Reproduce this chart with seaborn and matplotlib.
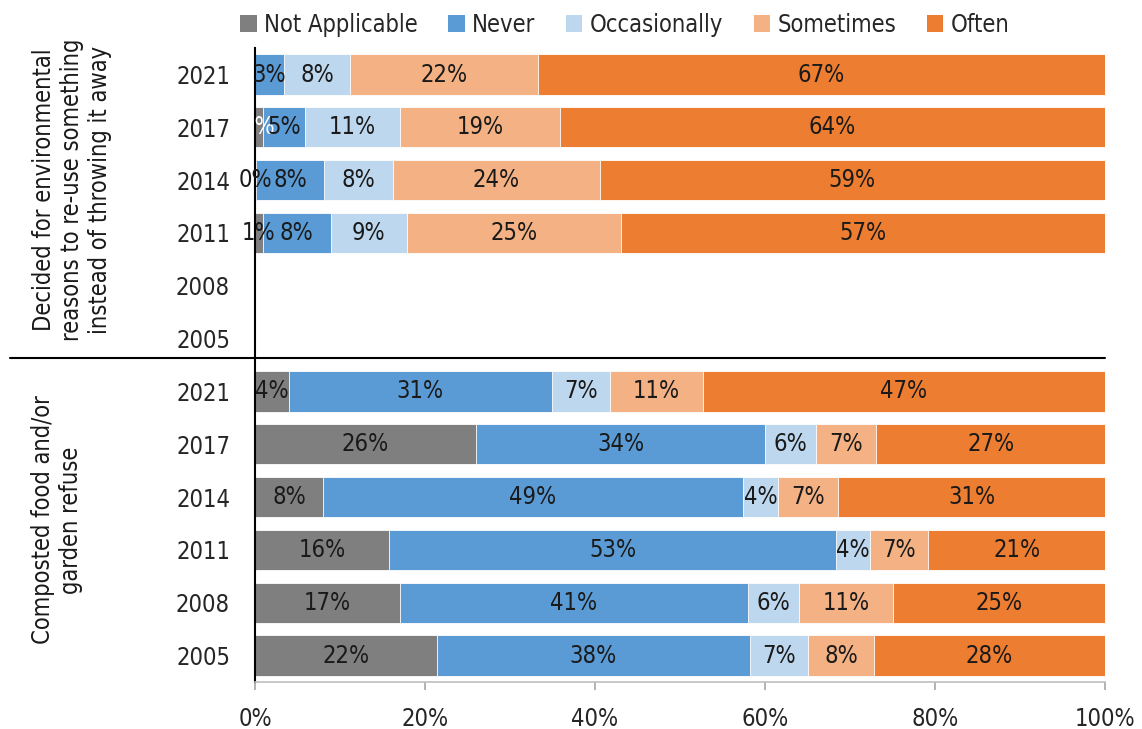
import numpy as np
import pandas as pd
import matplotlib
matplotlib.use("Agg")
import matplotlib.pyplot as plt
import seaborn as sns
from matplotlib.patches import Patch

# chart data (percent shares)
years = ["2021", "2017", "2014", "2011", "2008", "2005"]
series = ["Not Applicable", "Never", "Occasionally", "Sometimes", "Often"]
colors = ["#7F7F7F", "#5B9BD5", "#BDD7EE", "#F4B183", "#ED7D31"]

group_labels = ["Decided for environmental\nreasons to re-use something\ninstead of throwing it away",
                "Composted food and/or\ngarden refuse"]

reuse_na = [0.0, 0.9, 0.1, 0.9, np.nan, np.nan]
reuse_never = [3.4, 5.0, 8.0, 8.0, np.nan, np.nan]
reuse_occ = [7.8, 11.1, 8.1, 9.0, np.nan, np.nan]
reuse_some = [22.1, 18.9, 24.3, 25.1, np.nan, np.nan]
reuse_often = [66.7, 64.1, 59.4, 57.0, np.nan, np.nan]

compost_na = [4.0, 26.0, 8.0, 15.8, 17.0, 22.0]
compost_never = [30.9, 34.0, 49.4, 52.6, 41.0, 38.0]
compost_occ = [6.9, 6.0, 4.1, 4.0, 6.0, 7.0]
compost_some = [10.9, 7.1, 7.1, 6.9, 11.0, 8.0]
compost_often = [47.3, 26.9, 31.4, 20.8, 25.0, 28.0]

sns.set_style("white")
plt.rcParams['font.family'] = ['DejaVu Sans']
plt.rcParams['font.stretch'] = 'condensed'

# build a long table: one row per (bar, series), normalised to 100%
rows = ["a" + y for y in years] + ["b" + y for y in years]
groups = {
    "a": [reuse_na, reuse_never, reuse_occ, reuse_some, reuse_often],
    "b": [compost_na, compost_never, compost_occ, compost_some, compost_often],
}
records = []
for g, vals in groups.items():
    for i, y in enumerate(years):
        v = np.array([s[i] for s in vals], dtype=float)
        if np.isnan(v).all():
            continue
        share = v / v.sum() * 100
        start = np.concatenate([[0], np.cumsum(share)[:-1]])
        for k, name in enumerate(series):
            records.append({"row": g + y, "series": name, "value": v[k],
                            "share": share[k], "start": start[k],
                            "end": start[k] + share[k]})
df = pd.DataFrame(records)

fig = plt.figure(figsize=(11.42, 7.29), dpi=100)
ax = fig.add_axes([0.2233, 0.0645, 0.7443, 0.8695])

# stacked bars: draw cumulative ends from the last series to the first
for name, col in zip(series[::-1], colors[::-1]):
    d = df[df["series"] == name]
    sns.barplot(data=d, x="end", y="row", order=rows, color=col, saturation=1,
                width=0.76, errorbar=None, orient="h", ax=ax,
                edgecolor="white", linewidth=0.6)

# data labels
for _, r in df.iterrows():
    if r["value"] == 0:
        continue
    txt_col = "white" if (r["series"] == "Not Applicable" and r["row"] == "a2017") else "#1a1a1a"
    ax.text(r["start"] + r["share"] / 2, rows.index(r["row"]), f"{round(r['value'])}%",
            ha="center", va="center", fontsize=17, color=txt_col, zorder=5)

ax.set_xlim(0, 100)
ax.set_ylim(len(rows) - 0.5, -0.5)
ax.set_xticks([0, 20, 40, 60, 80, 100])
ax.set_xticklabels([f"{t}%" for t in [0, 20, 40, 60, 80, 100]], fontsize=17, color="#262626")
ax.set_yticks(range(len(rows)))
ax.set_yticklabels(years + years, fontsize=17, color="#262626")
ax.set_xlabel("")
ax.set_ylabel("")
ax.tick_params(axis="y", length=0, pad=18)
ax.tick_params(axis="x", length=6, width=1.2, color="#a6a6a6", direction="out", bottom=True, pad=12)

sns.despine(ax=ax, top=True, right=True)
ax.spines["left"].set_color("black")
ax.spines["left"].set_linewidth(1.5)
ax.spines["bottom"].set_color("#bfbfbf")
ax.spines["bottom"].set_linewidth(1.2)

# separator between the two questions
ax.plot([-0.288, 1.0], [5.37, 5.37], color="black", lw=1.5, clip_on=False,
        transform=ax.get_yaxis_transform())

# group labels
fig.text(72 / 1142, 1 - 190 / 729, group_labels[0], rotation=90, ha="center", va="center",
         fontsize=17, multialignment="center", color="#1a1a1a")
fig.text(57 / 1142, 1 - 520 / 729, group_labels[1], rotation=90, ha="center", va="center",
         fontsize=17, multialignment="center", color="#1a1a1a")

handles = [Patch(facecolor=c, edgecolor="none") for c in colors]
fig.legend(handles, series, loc="center", bbox_to_anchor=(0.547, 1 - 25 / 729), ncol=5,
           frameon=False, fontsize=17, handlelength=0.7, handleheight=0.7,
           handletextpad=0.3, columnspacing=1.3)

plt.savefig("out.png", dpi=100)
